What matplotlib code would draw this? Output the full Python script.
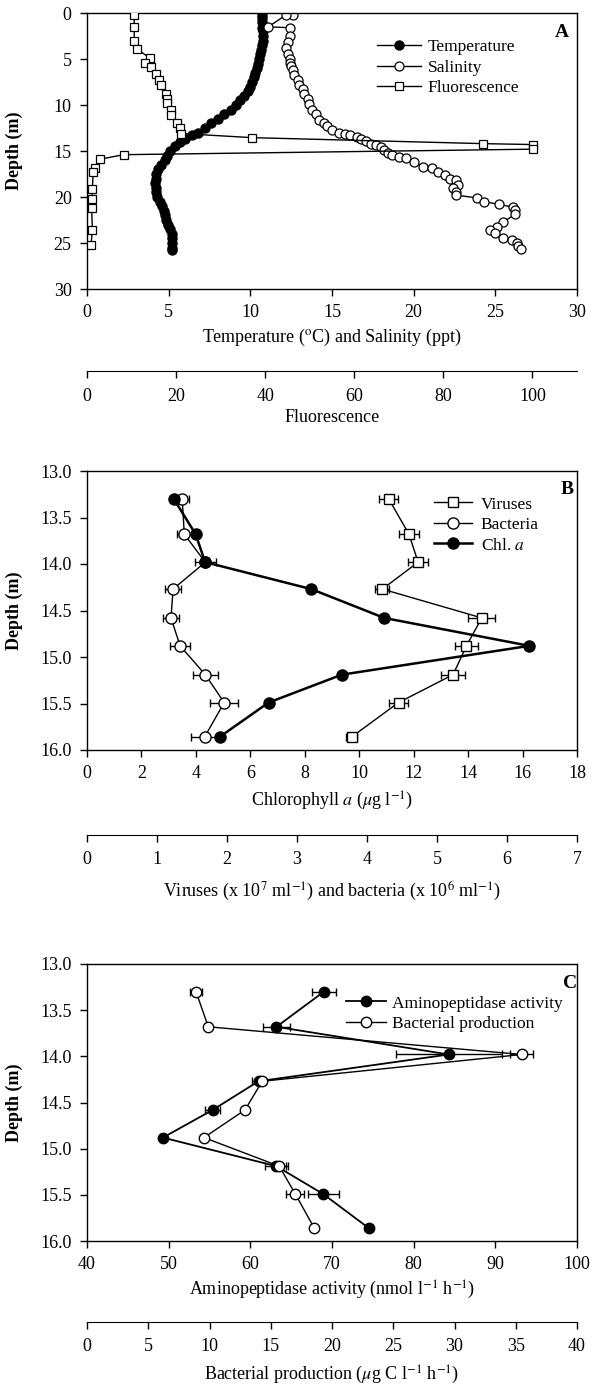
import matplotlib
matplotlib.use('Agg')
import matplotlib.pyplot as plt
from matplotlib.ticker import FormatStrFormatter, MultipleLocator

plt.rcParams['font.family'] = ['Liberation Serif', 'DejaVu Serif']
plt.rcParams['mathtext.fontset'] = 'stix'
plt.rcParams['font.size'] = 13

# ---- panel A: CTD profile ----
temp_depth = [0.2, 0.5, 1.0, 1.6, 2.0, 2.5, 3.0, 3.5, 4.0, 4.5, 5.0, 5.5, 6.0, 6.5,
              7.0, 7.5, 8.0, 8.5, 9.0, 9.5, 10.0, 10.5, 11.0, 11.5, 12.0, 12.5,
              13.0, 13.3, 13.7, 14.0, 14.5, 15.0, 15.5, 16.0, 16.5, 17.0, 17.5,
              18.0, 18.5, 19.0, 19.5, 20.0, 20.5, 21.0, 21.5, 22.0, 22.5, 23.0,
              23.5, 24.0, 24.5, 25.0, 25.5, 25.8]
temp_c = [10.7, 10.7, 10.7, 10.7, 10.75, 10.8, 10.75, 10.7, 10.65, 10.6, 10.55,
          10.45, 10.4, 10.3, 10.2, 10.1, 10.0, 9.85, 9.6, 9.35, 9.1, 8.8, 8.4,
          8.0, 7.6, 7.2, 6.8, 6.4, 6.0, 5.7, 5.4, 5.1, 4.9, 4.75, 4.5, 4.35,
          4.25, 4.2, 4.15, 4.2, 4.25, 4.3, 4.45, 4.6, 4.7, 4.75, 4.85, 4.95,
          5.1, 5.2, 5.2, 5.2, 5.2, 5.2]

sal_depth = [0.2, 0.2, 1.5, 1.6, 2.5, 3.1, 3.8, 4.5, 5.0, 5.4, 5.8, 6.2, 6.7, 7.3,
             7.8, 8.3, 8.8, 9.4, 9.9, 10.5, 11.0, 11.6, 12.0, 12.3, 12.7, 13.0,
             13.1, 13.3, 13.5, 13.7, 13.9, 14.2, 14.4, 14.6, 14.9, 15.2, 15.4,
             15.6, 15.8, 16.2, 16.7, 16.9, 17.3, 17.6, 18.0, 18.2, 18.7, 19.0,
             19.5, 19.8, 20.1, 20.5, 20.8, 21.1, 21.4, 21.9, 22.7, 23.3, 23.6,
             23.9, 24.5, 24.7, 25.0, 25.3, 25.6]
sal_ppt = [12.6, 12.2, 11.1, 12.4, 12.4, 12.3, 12.2, 12.3, 12.4, 12.4, 12.5, 12.6,
           12.7, 12.9, 13.0, 13.2, 13.3, 13.5, 13.6, 13.8, 14.0, 14.2, 14.5, 14.7,
           15.0, 15.4, 15.8, 16.1, 16.5, 16.8, 17.1, 17.4, 17.7, 18.0, 18.2, 18.4,
           18.7, 19.1, 19.5, 20.0, 20.6, 21.1, 21.5, 21.9, 22.2, 22.6, 22.7, 22.4,
           22.6, 22.6, 23.9, 24.3, 25.2, 26.1, 26.2, 26.2, 25.5, 25.1, 24.7, 25.0,
           25.5, 26.0, 26.3, 26.4, 26.6]

fluor_depth = [0.2, 1.5, 3.0, 3.9, 4.9, 5.4, 5.9, 6.6, 7.3, 7.8, 8.8, 9.3, 9.8,
               10.5, 11.1, 12.0, 12.5, 13.1, 13.55, 14.2, 14.3, 14.8, 15.4, 15.9,
               16.9, 17.3, 19.1, 20.2, 21.2, 23.6, 25.2]
fluor = [10.6, 10.6, 10.6, 11.2, 14.1, 13.0, 14.3, 15.6, 16.2, 16.7, 17.7, 17.9,
         17.9, 18.9, 18.9, 20.1, 20.9, 21.1, 37.1, 89.0, 100.2, 100.2, 8.2, 2.9,
         1.8, 1.4, 1.2, 1.05, 1.05, 1.2, 0.9]

# ---- panels B and C: discrete samples ----
depth_b = [13.30, 13.68, 13.98, 14.27, 14.58, 14.88, 15.19, 15.49, 15.86]
chl = [3.19, 3.99, 4.34, 8.24, 10.92, 16.25, 9.36, 6.67, 4.87]
viruses = [4.31, 4.60, 4.73, 4.22, 5.64, 5.42, 5.23, 4.45, 3.78]
viruses_err = [0.14, 0.14, 0.14, 0.10, 0.19, 0.16, 0.17, 0.14, 0.08]
bacteria = [1.36, 1.39, 1.69, 1.23, 1.20, 1.33, 1.69, 1.96, 1.68]
bacteria_err = [0.09, 0.11, 0.15, 0.11, 0.11, 0.14, 0.18, 0.20, 0.20]

amino = [69.0, 63.2, 84.3, 61.0, 55.4, 49.3, 63.2, 68.9, 74.5]
amino_err = [1.5, 1.6, 6.5, 0.85, 0.9, 0, 1.4, 1.9, 0]
bprod = [8.9, 9.9, 35.5, 14.3, 12.9, 9.55, 15.7, 17.0, 18.55]
bprod_err = [0.47, 0, 0.93, 0.3, 0, 0, 0.55, 0.75, 0]

W, H = 597, 1384
fig = plt.figure(figsize=(W / 100, H / 100), dpi=100)
LEG = 12.5


def frame(ax):
    ax.tick_params(direction='out', length=5, width=1, pad=6, top=False, right=False)
    for s in ax.spines.values():
        s.set_linewidth(1)


def second_axis(ax2, offset):
    ax2.xaxis.set_ticks_position('bottom')
    ax2.xaxis.set_label_position('bottom')
    ax2.spines['bottom'].set_position(('outward', offset))
    for s in ['top', 'left', 'right']:
        ax2.spines[s].set_visible(False)
    ax2.tick_params(direction='out', length=5, width=1, pad=7)


def box(top, bottom):
    return [87 / W, 1 - bottom / H, 490 / W, (bottom - top) / H]


# A
axA = fig.add_axes(box(13, 289))
axAf = axA.twiny()
lt, = axA.plot(temp_c, temp_depth, '-o', color='black', mfc='black', ms=6.5, lw=1)
ls, = axA.plot(sal_ppt, sal_depth, '-o', color='black', mfc='white', ms=6.5, mew=0.9, lw=1)
lf, = axAf.plot(fluor, fluor_depth, '-s', color='black', mfc='white', ms=5.5, mew=0.9, lw=1)
axA.set_xlim(0, 30)
axA.set_ylim(30, 0)
axA.xaxis.set_major_locator(MultipleLocator(5))
axA.yaxis.set_major_locator(MultipleLocator(5))
axAf.set_xlim(0, 110)
axAf.xaxis.set_major_locator(MultipleLocator(20))
frame(axA)
second_axis(axAf, 59)
axA.set_xlabel(r'Temperature ($^{\rm o}$C) and Salinity (ppt)', labelpad=4)
axAf.set_xlabel('Fluorescence', labelpad=3)
axA.set_ylabel('Depth (m)', fontweight='bold')
axA.yaxis.set_label_coords(-0.13, 0.5)
axAf.legend([lt, ls, lf], ['Temperature', 'Salinity', 'Fluorescence'], loc='upper left',
            bbox_to_anchor=(0.575, 0.937), frameon=False, borderpad=0, handlelength=2.5,
            handletextpad=0.4, labelspacing=0.25, fontsize=LEG)
axAf.text(0.969, 0.931, 'A', transform=axA.transAxes, fontweight='bold', fontsize=14,
          ha='center', va='center')

# B
axB = fig.add_axes(box(471, 750))
axBv = axB.twiny()
ev = axBv.errorbar(viruses, depth_b, xerr=viruses_err, fmt='-s', color='black', mfc='white',
                   ms=7.5, mew=1, lw=1, elinewidth=1, capsize=3, capthick=1)
eb = axBv.errorbar(bacteria, depth_b, xerr=bacteria_err, fmt='-o', color='black', mfc='white',
                   ms=8, mew=1, lw=1, elinewidth=1, capsize=3, capthick=1)
lc, = axB.plot(chl, depth_b, '-o', color='black', mfc='black', ms=8, lw=1.8)
axB.set_zorder(axBv.get_zorder() + 1)
axB.patch.set_visible(False)
axB.set_xlim(0, 18)
axB.set_ylim(16, 13)
axB.xaxis.set_major_locator(MultipleLocator(2))
axB.yaxis.set_major_locator(MultipleLocator(0.5))
axB.yaxis.set_major_formatter(FormatStrFormatter('%.1f'))
axBv.set_xlim(0, 7)
axBv.xaxis.set_major_locator(MultipleLocator(1))
frame(axB)
second_axis(axBv, 61)
axB.set_xlabel(r'Chlorophyll $a$ ($\mu$g l$^{-1}$)', labelpad=5)
axBv.set_xlabel(r'Viruses (x 10$^{7}$ ml$^{-1}$) and bacteria (x 10$^{6}$ ml$^{-1}$)', labelpad=8)
axB.set_ylabel('Depth (m)', fontweight='bold')
axB.yaxis.set_label_coords(-0.13, 0.5)
axB.legend([ev[0], eb[0], lc], ['Viruses', 'Bacteria', r'Chl. $a$'], loc='upper left',
           bbox_to_anchor=(0.69, 0.94), frameon=False, borderpad=0, handlelength=2.2,
           handletextpad=0.5, labelspacing=0.25, fontsize=LEG)
axB.text(0.98, 0.932, 'B', transform=axB.transAxes, fontweight='bold', fontsize=14,
         ha='center', va='center')

# C
axC = fig.add_axes(box(964, 1241))
axCb = axC.twiny()
ea = axC.errorbar(amino, depth_b, xerr=amino_err, fmt='-o', color='black', mfc='black',
                  ms=7.5, lw=1.3, elinewidth=1, capsize=3, capthick=1)
ep = axCb.errorbar(bprod, depth_b, xerr=bprod_err, fmt='-o', color='black', mfc='white',
                   ms=7.5, mew=1, lw=1, elinewidth=1, capsize=3, capthick=1)
axC.set_xlim(40, 100)
axC.set_ylim(16, 13)
axC.xaxis.set_major_locator(MultipleLocator(10))
axC.yaxis.set_major_locator(MultipleLocator(0.5))
axC.yaxis.set_major_formatter(FormatStrFormatter('%.1f'))
axCb.set_xlim(0, 40)
axCb.xaxis.set_major_locator(MultipleLocator(5))
frame(axC)
second_axis(axCb, 58)
axC.set_xlabel(r'Aminopeptidase activity (nmol l$^{-1}$ h$^{-1}$)', labelpad=4)
axCb.set_xlabel(r'Bacterial production ($\mu$g C l$^{-1}$ h$^{-1}$)', labelpad=6)
axC.set_ylabel('Depth (m)', fontweight='bold')
axC.yaxis.set_label_coords(-0.13, 0.5)
axCb.legend([ea[0], ep[0]], ['Aminopeptidase activity', 'Bacterial production'],
            loc='upper left', bbox_to_anchor=(0.51, 0.918), frameon=False, borderpad=0,
            handlelength=2.3, handletextpad=0.4, labelspacing=0.25, fontsize=LEG)
axCb.text(0.985, 0.931, 'C', transform=axC.transAxes, fontweight='bold', fontsize=14,
          ha='center', va='center')

fig.savefig('out.png', dpi=100)
